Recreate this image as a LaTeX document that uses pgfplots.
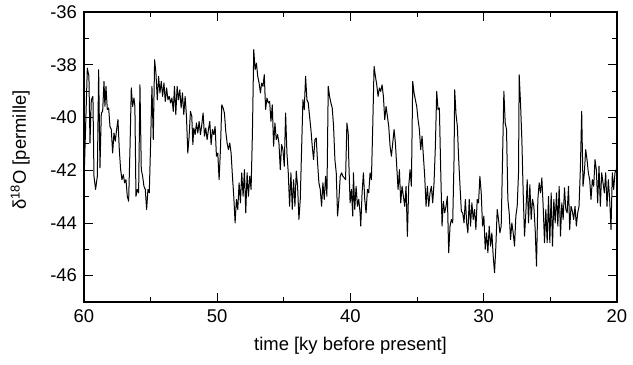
\documentclass[border=0pt]{standalone}
\usepackage{fontspec}
\setmainfont{Liberation Sans}
\usepackage{pgfplots}
\pgfplotsset{compat=1.18}
\begin{document}
\begin{tikzpicture}
\begin{axis}[
  scale only axis,
  width=533bp, height=290bp,
  x dir=reverse,
  xmin=20, xmax=60, ymin=-47, ymax=-36,
  xtick={20,30,40,50,60},
  xticklabels={20,30,40,50,60},
  ytick={-46,-44,-42,-40,-38,-36},
  yticklabels={-46,-44,-42,-40,-38,-36},
  minor x tick num=1, minor y tick num=1,
  tick align=inside,
  major tick length=9bp, minor tick length=5bp,
  every tick/.style={black, line width=0.8bp},
  axis line style={line width=1.3bp},
  tick label style={font=\fontsize{18.5}{21}\selectfont},
  label style={font=\fontsize{18.5}{21}\selectfont},
  xticklabel style={yshift=-4bp},
  yticklabel style={xshift=-3.5bp},
  xlabel={time [ky before present]},
  ylabel={δ\textsuperscript{18}O [permille]},
  xlabel style={at={(axis description cs:0.5,-0.152)}, anchor=center},
  ylabel style={at={(axis description cs:-0.120,0.524)}, anchor=center},
]
\addplot[black, line width=1bp, line join=round] table {
x y
60.00 -42.48
59.75 -38.13
59.63 -38.44
59.55 -40.97
59.45 -39.33
59.33 -39.20
59.25 -42.23
59.13 -42.73
59.00 -42.23
58.90 -38.19
58.80 -41.91
58.70 -39.83
58.60 -39.77
58.50 -38.63
58.43 -39.58
58.35 -38.82
58.25 -39.70
58.15 -39.64
58.05 -40.34
57.95 -40.46
57.85 -41.35
57.75 -40.59
57.65 -40.90
57.55 -40.46
57.45 -40.08
57.35 -41.22
57.25 -41.98
57.15 -42.36
57.05 -42.17
56.95 -42.48
56.85 -42.36
56.75 -42.99
56.65 -43.18
56.55 -41.22
56.45 -38.88
56.35 -39.58
56.25 -39.26
56.18 -39.58
56.10 -42.99
56.00 -42.73
55.90 -42.86
55.80 -38.76
55.70 -41.98
55.60 -42.23
55.50 -42.61
55.40 -42.73
55.30 -43.49
55.20 -42.73
55.10 -42.86
55.00 -40.97
54.90 -38.82
54.80 -40.84
54.70 -37.81
54.60 -38.32
54.50 -39.33
54.40 -38.44
54.30 -39.07
54.20 -38.63
54.10 -39.20
54.00 -38.69
53.90 -39.39
53.80 -38.88
53.70 -39.33
53.60 -39.20
53.50 -39.45
53.40 -39.26
53.30 -39.77
53.21 -38.82
53.11 -39.89
53.01 -38.82
52.91 -39.33
52.81 -38.95
52.71 -39.64
52.61 -39.07
52.51 -39.89
52.41 -39.20
52.31 -39.96
52.21 -41.35
52.11 -40.71
52.01 -39.77
51.91 -39.96
51.83 -41.03
51.76 -40.40
51.66 -40.65
51.56 -40.21
51.46 -40.59
51.36 -40.15
51.26 -40.65
51.16 -40.27
51.06 -39.83
50.96 -40.71
50.86 -40.40
50.76 -40.84
50.66 -40.46
50.56 -40.15
50.46 -41.03
50.36 -40.46
50.26 -40.65
50.16 -40.34
50.06 -41.47
49.96 -41.35
49.86 -42.36
49.76 -41.22
49.66 -39.52
49.56 -39.64
49.46 -39.83
49.36 -40.53
49.26 -40.97
49.16 -41.22
49.06 -40.97
48.96 -41.35
48.86 -42.23
48.76 -42.99
48.66 -44.00
48.56 -43.11
48.46 -43.49
48.36 -42.48
48.26 -43.24
48.16 -42.10
48.06 -42.99
47.96 -41.98
47.86 -43.62
47.76 -42.10
47.66 -42.99
47.56 -42.23
47.46 -42.73
47.36 -40.59
47.26 -37.43
47.16 -38.19
47.06 -37.94
46.96 -38.44
46.86 -38.69
46.76 -39.07
46.67 -38.70
46.57 -38.82
46.47 -38.38
46.37 -39.70
46.27 -39.26
46.17 -39.45
46.07 -39.39
45.97 -40.15
45.87 -39.52
45.77 -41.09
45.67 -40.21
45.57 -40.84
45.47 -40.65
45.37 -40.97
45.27 -41.98
45.17 -41.03
45.07 -41.22
44.97 -41.85
44.87 -39.83
44.77 -41.35
44.67 -42.10
44.57 -43.37
44.47 -42.10
44.37 -43.49
44.27 -42.36
44.17 -43.37
44.07 -42.04
43.97 -42.61
43.87 -43.87
43.77 -43.11
43.67 -41.22
43.57 -39.33
43.47 -39.70
43.37 -38.44
43.27 -39.33
43.17 -39.45
43.07 -39.96
42.97 -40.46
42.87 -41.09
42.77 -41.60
42.67 -40.84
42.57 -40.78
42.47 -41.72
42.37 -42.48
42.27 -42.73
42.17 -43.37
42.07 -42.48
41.97 -43.11
41.87 -42.23
41.77 -42.99
41.67 -38.82
41.57 -39.20
41.47 -39.45
41.37 -39.64
41.27 -40.34
41.17 -41.60
41.07 -42.10
40.97 -43.74
40.87 -43.11
40.77 -42.23
40.67 -42.10
40.57 -42.23
40.47 -42.29
40.37 -42.36
40.27 -40.21
40.17 -40.59
40.13 -41.60
40.03 -43.24
39.93 -42.73
39.83 -43.74
39.78 -42.10
39.68 -43.49
39.58 -42.61
39.48 -43.37
39.38 -43.11
39.28 -43.62
39.23 -44.12
39.13 -42.86
39.03 -42.10
38.93 -43.11
38.83 -43.62
38.73 -42.73
38.63 -42.86
38.53 -42.10
38.43 -42.36
38.33 -40.34
38.23 -38.06
38.13 -38.44
38.03 -38.76
37.93 -39.20
37.83 -38.88
37.73 -39.01
37.63 -38.76
37.53 -39.20
37.43 -40.08
37.33 -39.58
37.23 -39.96
37.13 -40.34
37.03 -41.09
36.93 -41.47
36.83 -40.97
36.73 -40.46
36.63 -40.97
36.53 -41.85
36.43 -42.73
36.33 -41.98
36.23 -43.24
36.13 -42.61
36.03 -42.99
35.93 -43.37
35.83 -42.61
35.73 -44.51
35.63 -42.61
35.53 -41.98
35.43 -42.61
35.33 -38.63
35.23 -39.07
35.13 -39.33
35.03 -39.58
34.93 -40.08
34.83 -40.46
34.73 -41.22
34.63 -40.71
34.53 -41.47
34.43 -42.23
34.33 -43.37
34.23 -42.61
34.13 -43.37
34.03 -42.86
33.93 -42.61
33.83 -43.24
33.73 -42.48
33.63 -41.09
33.53 -39.01
33.43 -39.70
33.33 -39.64
33.23 -41.98
33.13 -44.12
33.03 -43.18
32.93 -43.62
32.83 -43.37
32.73 -42.99
32.63 -45.13
32.53 -44.12
32.43 -43.87
32.33 -44.00
32.23 -41.60
32.18 -38.95
32.08 -39.89
31.98 -40.34
31.88 -41.60
31.78 -42.61
31.68 -43.56
31.58 -43.62
31.48 -44.00
31.38 -43.11
31.28 -44.00
31.19 -44.38
31.09 -43.11
30.99 -44.12
30.89 -43.24
30.79 -43.87
30.69 -43.49
30.59 -44.25
30.49 -43.11
30.39 -43.24
30.29 -42.23
30.19 -42.86
30.09 -44.12
29.99 -43.74
29.89 -45.00
29.79 -44.38
29.69 -45.13
29.59 -44.12
29.49 -44.88
29.39 -44.38
29.29 -45.26
29.19 -45.89
29.09 -44.88
28.99 -43.49
28.89 -43.87
28.79 -44.38
28.69 -44.12
28.59 -41.60
28.49 -39.01
28.39 -40.21
28.29 -40.46
28.19 -43.11
28.09 -43.62
27.99 -44.63
27.89 -44.00
27.79 -44.38
27.69 -44.88
27.59 -43.74
27.49 -43.37
27.39 -42.10
27.34 -38.38
27.24 -39.45
27.14 -40.84
27.04 -42.86
26.94 -44.50
26.84 -43.62
26.74 -42.36
26.64 -44.00
26.54 -42.55
26.44 -43.87
26.34 -43.11
26.24 -43.37
26.14 -44.25
26.04 -45.64
25.94 -43.11
25.84 -42.48
25.74 -42.86
25.64 -42.29
25.54 -43.37
25.44 -44.75
25.34 -43.49
25.24 -44.75
25.14 -42.99
25.04 -44.75
24.94 -42.86
24.84 -44.88
24.74 -43.11
24.64 -44.00
24.54 -42.86
24.44 -44.12
24.34 -42.61
24.24 -44.50
24.14 -43.24
24.04 -43.87
23.94 -42.67
23.84 -43.49
23.74 -43.62
23.64 -42.61
23.55 -44.25
23.45 -43.37
23.35 -43.56
23.25 -43.87
23.15 -43.37
23.05 -44.12
22.95 -43.62
22.85 -43.37
22.75 -41.98
22.65 -39.77
22.55 -42.61
22.45 -42.10
22.35 -41.22
22.25 -41.60
22.15 -42.10
22.05 -42.36
21.95 -43.11
21.85 -42.36
21.75 -42.61
21.65 -41.60
21.55 -41.98
21.45 -43.24
21.35 -41.85
21.25 -43.37
21.15 -42.10
21.05 -42.48
20.95 -42.86
20.85 -42.10
20.75 -43.37
20.65 -42.36
20.55 -43.11
20.45 -44.25
20.35 -42.10
20.25 -42.73
20.15 -42.10
20.07 -41.98
};
\end{axis}
\path (current axis.south west) ++(-84bp,-63bp);
\path (current axis.north east) ++(16bp,12bp);
\end{tikzpicture}
\end{document}
